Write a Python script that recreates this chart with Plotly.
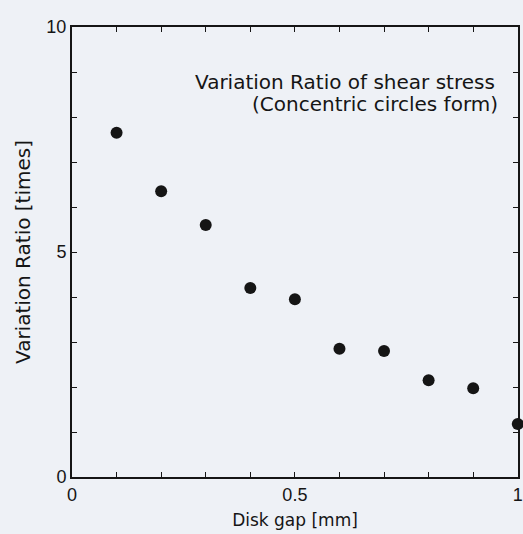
import plotly.graph_objects as go

disk_gap = [0.1, 0.2, 0.3, 0.4, 0.5, 0.6, 0.7, 0.8, 0.9, 1.0]
variation_ratio = [7.65, 6.35, 5.6, 4.2, 3.95, 2.85, 2.8, 2.15, 1.97, 1.18]

x_tickvals = [0, 0.1, 0.2, 0.3, 0.4, 0.5, 0.6, 0.7, 0.8, 0.9, 1.0]
x_ticktext = ["0", "", "", "", "", "0.5", "", "", "", "", "1"]
y_tickvals = [0, 1, 2, 3, 4, 5, 6, 7, 8, 9, 10]
y_ticktext = ["0", "", "", "", "", "5", "", "", "", "", "10"]

note_lines = ["Variation Ratio of shear stress", "(Concentric circles form)"]

bg = "#eef1f6"
font = "DejaVu Sans, Liberation Sans, Arial, sans-serif"
tick_font = "Liberation Sans, Arial, sans-serif"
ink = "#151515"

fig = go.Figure()
fig.add_trace(go.Scatter(
    x=disk_gap, y=variation_ratio, mode="markers",
    marker=dict(color=ink, size=12),
    cliponaxis=False, showlegend=False,
))

axis_common = dict(
    showline=True, linecolor=ink, linewidth=2, mirror="ticks",
    ticks="inside", ticklen=5, tickwidth=1.3, tickcolor=ink,
    showgrid=False, zeroline=False, automargin=False,
    tickfont=dict(family=tick_font, size=18, color=ink),
)

fig.update_layout(
    width=523, height=534,
    margin=dict(l=72, r=5, t=27, b=57, autoexpand=False),
    paper_bgcolor=bg, plot_bgcolor=bg,
    font=dict(family=font, color=ink),
    xaxis=dict(range=[0, 1.0005], tickvals=x_tickvals, ticktext=x_ticktext,
               title=dict(text="Disk gap [mm]", font=dict(size=17), standoff=11),
               **axis_common),
    yaxis=dict(range=[0, 10], tickvals=y_tickvals, ticktext=y_ticktext,
               title=dict(text="Variation Ratio [times]", font=dict(size=20), standoff=10),
               **axis_common),
    annotations=[
        dict(x=0.953, y=0.878, xref="paper", yref="paper", xanchor="right", yanchor="middle",
             text=note_lines[0], showarrow=False,
             font=dict(family=font, size=20, color=ink)),
        dict(x=0.960, y=0.829, xref="paper", yref="paper", xanchor="right", yanchor="middle",
             text=note_lines[1], showarrow=False,
             font=dict(family=font, size=20, color=ink)),
    ],
)

fig.write_html("out.html",
               config={"displayModeBar": False},
               post_script="document.body.style.margin='0';document.body.style.overflow='hidden';")
